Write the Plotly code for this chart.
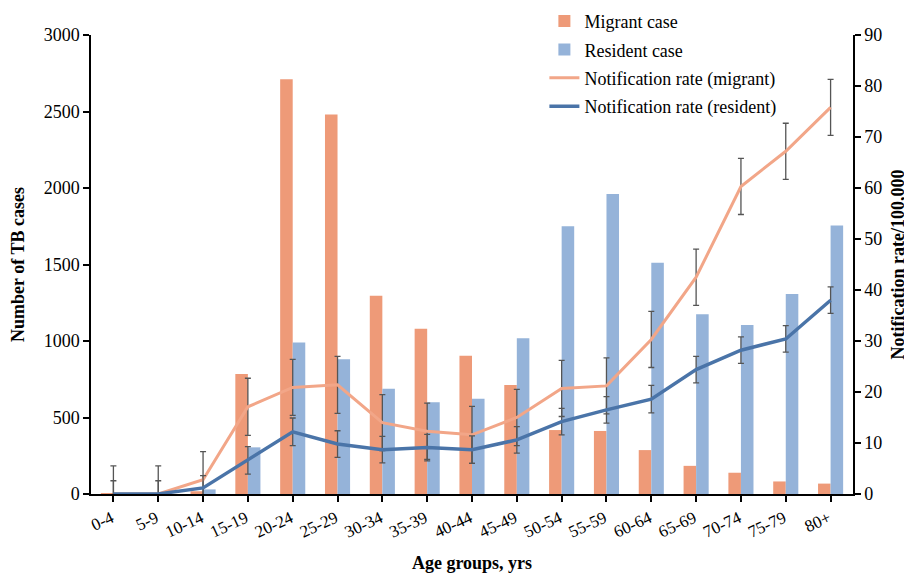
import plotly.graph_objects as go

age_groups = ["0-4", "5-9", "10-14", "15-19", "20-24", "25-29", "30-34", "35-39", "40-44",
              "45-49", "50-54", "55-59", "60-64", "65-69", "70-74", "75-79", "80+"]
migrant_cases = [6, 2, 18, 785, 2710, 2480, 1295, 1080, 903, 712, 418, 412, 287, 184, 139, 82, 68]
resident_cases = [2, 2, 30, 305, 990, 880, 688, 600, 622, 1018, 1750, 1960, 1512, 1175, 1104, 1307, 1755]
rate_migrant = [0.0, 0.0, 2.8, 17.1, 20.9, 21.4, 14.0, 12.3, 11.6, 15.0, 20.7, 21.2, 30.3, 42.5, 60.3, 67.2, 75.8]
rate_migrant_err = [5.5, 5.5, 5.5, 5.6, 5.5, 5.6, 5.5, 5.5, 5.6, 5.5, 5.5, 5.5, 5.5, 5.5, 5.5, 5.5, 5.5]
rate_resident = [0.0, 0.0, 1.2, 6.6, 12.2, 9.8, 8.7, 9.1, 8.7, 10.6, 14.2, 16.5, 18.6, 24.4, 28.2, 30.4, 38.0]
rate_resident_err = [2.6, 2.6, 2.4, 2.7, 2.7, 2.6, 2.6, 2.6, 2.7, 2.6, 2.6, 2.6, 2.7, 2.6, 2.6, 2.6, 2.6]

FONT = "Liberation Serif"
C_MIG_BAR = "#EE9A78"
C_RES_BAR = "#95B3D9"
C_MIG_LINE = "#F2A688"
C_RES_LINE = "#4A74A8"
C_ERR = "#555555"

fig = go.Figure()
fig.add_trace(go.Bar(x=age_groups, y=migrant_cases, name="Migrant case",
                     marker=dict(color=C_MIG_BAR, line=dict(width=0)), legendgroup="a"))
fig.add_trace(go.Bar(x=age_groups, y=resident_cases, name="Resident case",
                     marker=dict(color=C_RES_BAR, line=dict(width=0)), legendgroup="b"))
fig.add_trace(go.Scatter(x=age_groups, y=rate_migrant, name="Notification rate (migrant)",
                         mode="lines", yaxis="y2", line=dict(color=C_MIG_LINE, width=3),
                         error_y=dict(type="data", array=rate_migrant_err, visible=True,
                                      color=C_ERR, thickness=1.3, width=3),
                         legendgroup="c"))
fig.add_trace(go.Scatter(x=age_groups, y=rate_resident, name="Notification rate (resident)",
                         mode="lines", yaxis="y2", line=dict(color=C_RES_LINE, width=3.5),
                         error_y=dict(type="data", array=rate_resident_err, visible=True,
                                      color=C_ERR, thickness=1.3, width=3),
                         legendgroup="d"))

fig.update_layout(
    width=904, height=569,
    margin=dict(l=83, r=59, t=27, b=83, autoexpand=False),
    paper_bgcolor="white", plot_bgcolor="white",
    font=dict(family=FONT, size=18, color="black"),
    barmode="group", bargap=0.44, bargroupgap=0,
    showlegend=True,
    legend=dict(x=0.595, y=1.07, xanchor="left", yanchor="top",
                bgcolor="rgba(0,0,0,0)", font=dict(family=FONT, size=18),
                tracegroupgap=2, traceorder="grouped"),
    xaxis=dict(title=dict(text="<b>Age groups, yrs</b>", font=dict(size=18), standoff=16),
               range=[-0.5, len(age_groups) - 0.5], autorange=False,
               showline=True, linecolor="black", linewidth=1.5,
               ticks="outside", ticklen=6, tickcolor="black", tickwidth=1.5,
               tickangle=-25, showgrid=False, tickfont=dict(size=17),
               ticklabelshift=-2),
    yaxis=dict(title=dict(text="<b>Number of TB cases</b>", font=dict(size=18), standoff=18),
               range=[0, 3000], dtick=500, showline=True, linecolor="black", linewidth=1.5,
               ticks="outside", ticklen=6, tickcolor="black", tickwidth=1.5,
               showgrid=False, zeroline=False, tickfont=dict(size=18)),
    yaxis2=dict(title=dict(text="<b>Notification rate/100,000</b>", font=dict(size=18), standoff=10),
                overlaying="y", side="right", range=[0, 90], dtick=10,
                showline=True, linecolor="black", linewidth=1.5,
                ticks="outside", ticklen=6, tickcolor="black", tickwidth=1.5,
                showgrid=False, zeroline=False, tickfont=dict(size=18)),
)

fig.write_html("out.html")
